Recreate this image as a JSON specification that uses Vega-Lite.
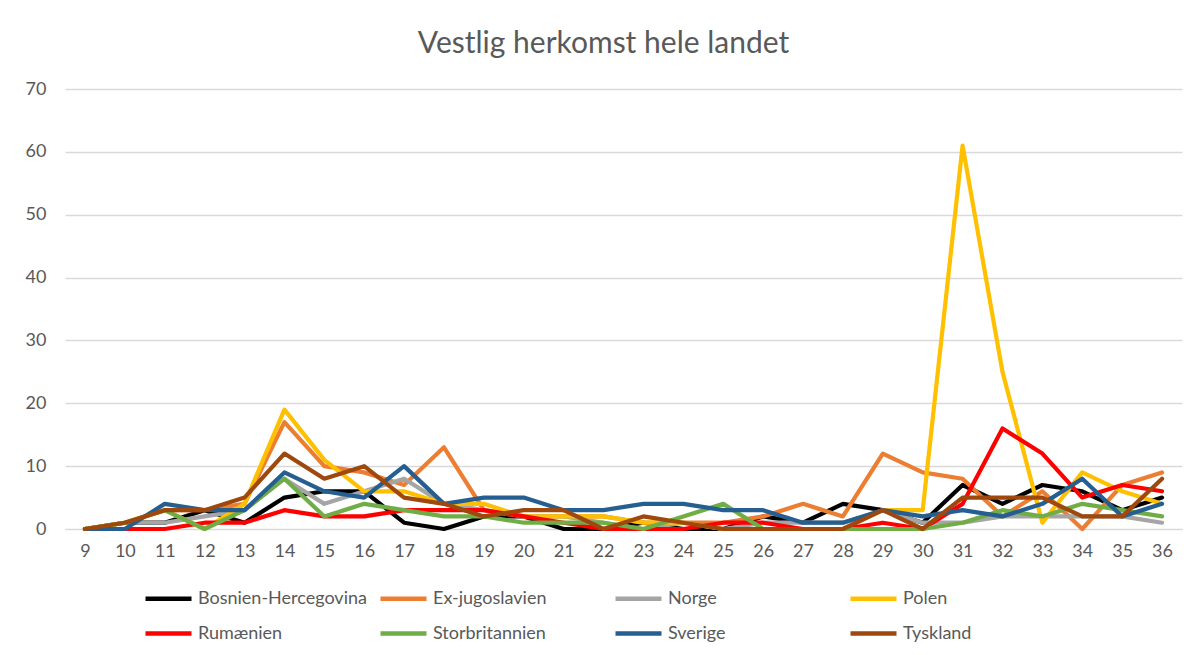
{
  "$schema": "https://vega.github.io/schema/vega-lite/v6.json",
  "width": 1117,
  "height": 440,
  "autosize": {"type": "none"},
  "padding": {"left": 65, "top": 89, "right": 13, "bottom": 126},
  "background": "white",
  "title": {
    "text": "Vestlig herkomst  hele landet",
    "fontSize": 30,
    "font": "Lato",
    "fontWeight": "normal",
    "color": "#595959",
    "anchor": "middle",
    "frame": "bounds",
    "offset": 21
  },
  "data": {
    "values": [
      {"x": 9, "Bosnien-Hercegovina": 0, "Ex-jugoslavien": 0, "Norge": 0, "Polen": 0, "Rumænien": 0, "Storbritannien": 0, "Sverige": 0, "Tyskland": 0},
      {"x": 10, "Bosnien-Hercegovina": 1, "Ex-jugoslavien": 1, "Norge": 1, "Polen": 1, "Rumænien": 0, "Storbritannien": 1, "Sverige": 0, "Tyskland": 1},
      {"x": 11, "Bosnien-Hercegovina": 1, "Ex-jugoslavien": 3, "Norge": 1, "Polen": 3, "Rumænien": 0, "Storbritannien": 3, "Sverige": 4, "Tyskland": 3},
      {"x": 12, "Bosnien-Hercegovina": 3, "Ex-jugoslavien": 3, "Norge": 2, "Polen": 0, "Rumænien": 1, "Storbritannien": 0, "Sverige": 3, "Tyskland": 3},
      {"x": 13, "Bosnien-Hercegovina": 1, "Ex-jugoslavien": 4, "Norge": 3, "Polen": 4, "Rumænien": 1, "Storbritannien": 3, "Sverige": 3, "Tyskland": 5},
      {"x": 14, "Bosnien-Hercegovina": 5, "Ex-jugoslavien": 17, "Norge": 8, "Polen": 19, "Rumænien": 3, "Storbritannien": 8, "Sverige": 9, "Tyskland": 12},
      {"x": 15, "Bosnien-Hercegovina": 6, "Ex-jugoslavien": 10, "Norge": 4, "Polen": 11, "Rumænien": 2, "Storbritannien": 2, "Sverige": 6, "Tyskland": 8},
      {"x": 16, "Bosnien-Hercegovina": 6, "Ex-jugoslavien": 9, "Norge": 6, "Polen": 6, "Rumænien": 2, "Storbritannien": 4, "Sverige": 5, "Tyskland": 10},
      {"x": 17, "Bosnien-Hercegovina": 1, "Ex-jugoslavien": 7, "Norge": 8, "Polen": 6, "Rumænien": 3, "Storbritannien": 3, "Sverige": 10, "Tyskland": 5},
      {"x": 18, "Bosnien-Hercegovina": 0, "Ex-jugoslavien": 13, "Norge": 4, "Polen": 4, "Rumænien": 3, "Storbritannien": 2, "Sverige": 4, "Tyskland": 4},
      {"x": 19, "Bosnien-Hercegovina": 2, "Ex-jugoslavien": 3, "Norge": 3, "Polen": 4, "Rumænien": 3, "Storbritannien": 2, "Sverige": 5, "Tyskland": 2},
      {"x": 20, "Bosnien-Hercegovina": 2, "Ex-jugoslavien": 2, "Norge": 2, "Polen": 2, "Rumænien": 2, "Storbritannien": 1, "Sverige": 5, "Tyskland": 3},
      {"x": 21, "Bosnien-Hercegovina": 0, "Ex-jugoslavien": 2, "Norge": 2, "Polen": 2, "Rumænien": 1, "Storbritannien": 1, "Sverige": 3, "Tyskland": 3},
      {"x": 22, "Bosnien-Hercegovina": 0, "Ex-jugoslavien": 2, "Norge": 1, "Polen": 2, "Rumænien": 0, "Storbritannien": 1, "Sverige": 3, "Tyskland": 0},
      {"x": 23, "Bosnien-Hercegovina": 1, "Ex-jugoslavien": 1, "Norge": 0, "Polen": 1, "Rumænien": 0, "Storbritannien": 0, "Sverige": 4, "Tyskland": 2},
      {"x": 24, "Bosnien-Hercegovina": 0, "Ex-jugoslavien": 1, "Norge": 1, "Polen": 1, "Rumænien": 0, "Storbritannien": 2, "Sverige": 4, "Tyskland": 1},
      {"x": 25, "Bosnien-Hercegovina": 0, "Ex-jugoslavien": 1, "Norge": 0, "Polen": 0, "Rumænien": 1, "Storbritannien": 4, "Sverige": 3, "Tyskland": 0},
      {"x": 26, "Bosnien-Hercegovina": 2, "Ex-jugoslavien": 2, "Norge": 1, "Polen": 0, "Rumænien": 1, "Storbritannien": 0, "Sverige": 3, "Tyskland": 0},
      {"x": 27, "Bosnien-Hercegovina": 1, "Ex-jugoslavien": 4, "Norge": 1, "Polen": 0, "Rumænien": 0, "Storbritannien": 0, "Sverige": 1, "Tyskland": 0},
      {"x": 28, "Bosnien-Hercegovina": 4, "Ex-jugoslavien": 2, "Norge": 1, "Polen": 0, "Rumænien": 0, "Storbritannien": 0, "Sverige": 1, "Tyskland": 0},
      {"x": 29, "Bosnien-Hercegovina": 3, "Ex-jugoslavien": 12, "Norge": 3, "Polen": 3, "Rumænien": 1, "Storbritannien": 0, "Sverige": 3, "Tyskland": 3},
      {"x": 30, "Bosnien-Hercegovina": 1, "Ex-jugoslavien": 9, "Norge": 1, "Polen": 3, "Rumænien": 0, "Storbritannien": 0, "Sverige": 2, "Tyskland": 0},
      {"x": 31, "Bosnien-Hercegovina": 7, "Ex-jugoslavien": 8, "Norge": 1, "Polen": 61, "Rumænien": 4, "Storbritannien": 1, "Sverige": 3, "Tyskland": 5},
      {"x": 32, "Bosnien-Hercegovina": 4, "Ex-jugoslavien": 2, "Norge": 2, "Polen": 25, "Rumænien": 16, "Storbritannien": 3, "Sverige": 2, "Tyskland": 5},
      {"x": 33, "Bosnien-Hercegovina": 7, "Ex-jugoslavien": 6, "Norge": 2, "Polen": 1, "Rumænien": 12, "Storbritannien": 2, "Sverige": 4, "Tyskland": 5},
      {"x": 34, "Bosnien-Hercegovina": 6, "Ex-jugoslavien": 0, "Norge": 2, "Polen": 9, "Rumænien": 5, "Storbritannien": 4, "Sverige": 8, "Tyskland": 2},
      {"x": 35, "Bosnien-Hercegovina": 3, "Ex-jugoslavien": 7, "Norge": 2, "Polen": 6, "Rumænien": 7, "Storbritannien": 3, "Sverige": 2, "Tyskland": 2},
      {"x": 36, "Bosnien-Hercegovina": 5, "Ex-jugoslavien": 9, "Norge": 1, "Polen": 4, "Rumænien": 6, "Storbritannien": 2, "Sverige": 4, "Tyskland": 8}
    ]
  },
  "transform": [
    {"fold": ["Bosnien-Hercegovina", "Ex-jugoslavien", "Norge", "Polen", "Rumænien", "Storbritannien", "Sverige", "Tyskland"], "as": ["land", "antal"]}
  ],
  "mark": {"type": "line", "strokeWidth": 4.2, "strokeJoin": "round", "strokeCap": "round"},
  "encoding": {
    "x": {
      "field": "x",
      "type": "ordinal",
      "scale": {"type": "point", "padding": 0.5},
      "axis": {
        "title": null,
        "labelAngle": 0,
        "ticks": false,
        "domain": true,
        "domainColor": "#D9D9D9",
        "grid": false,
        "labelPadding": 13,
        "labelFontSize": 18,
        "labelFont": "Lato",
        "labelColor": "#595959"
      }
    },
    "y": {
      "field": "antal",
      "type": "quantitative",
      "scale": {"domain": [0, 70]},
      "axis": {
        "title": null,
        "values": [0, 10, 20, 30, 40, 50, 60, 70],
        "ticks": false,
        "domain": false,
        "grid": true,
        "gridColor": "#D9D9D9",
        "gridWidth": 1.3,
        "labelPadding": 19,
        "labelFontSize": 18,
        "labelFont": "Lato",
        "labelColor": "#595959"
      }
    },
    "color": {
      "field": "land",
      "type": "nominal",
      "scale": {
        "domain": ["Bosnien-Hercegovina", "Ex-jugoslavien", "Norge", "Polen", "Rumænien", "Storbritannien", "Sverige", "Tyskland"],
        "range": ["#000000", "#ED7D31", "#A5A5A5", "#FFC000", "#FF0000", "#70AD47", "#255E91", "#9E480E"]
      },
      "legend": {
        "title": null,
        "orient": "none",
        "legendX": 78,
        "legendY": 484,
        "direction": "horizontal",
        "columns": 4,
        "gridAlign": "all",
        "columnPadding": 4,
        "rowPadding": -12,
        "symbolType": "stroke",
        "symbolSize": 2116,
        "symbolStrokeWidth": 4.5,
        "labelOffset": 4,
        "labelFontSize": 18,
        "labelFont": "Lato",
        "labelColor": "#595959",
        "labelLimit": 300
      }
    }
  },
  "config": {
    "view": {"stroke": null}
  }
}
